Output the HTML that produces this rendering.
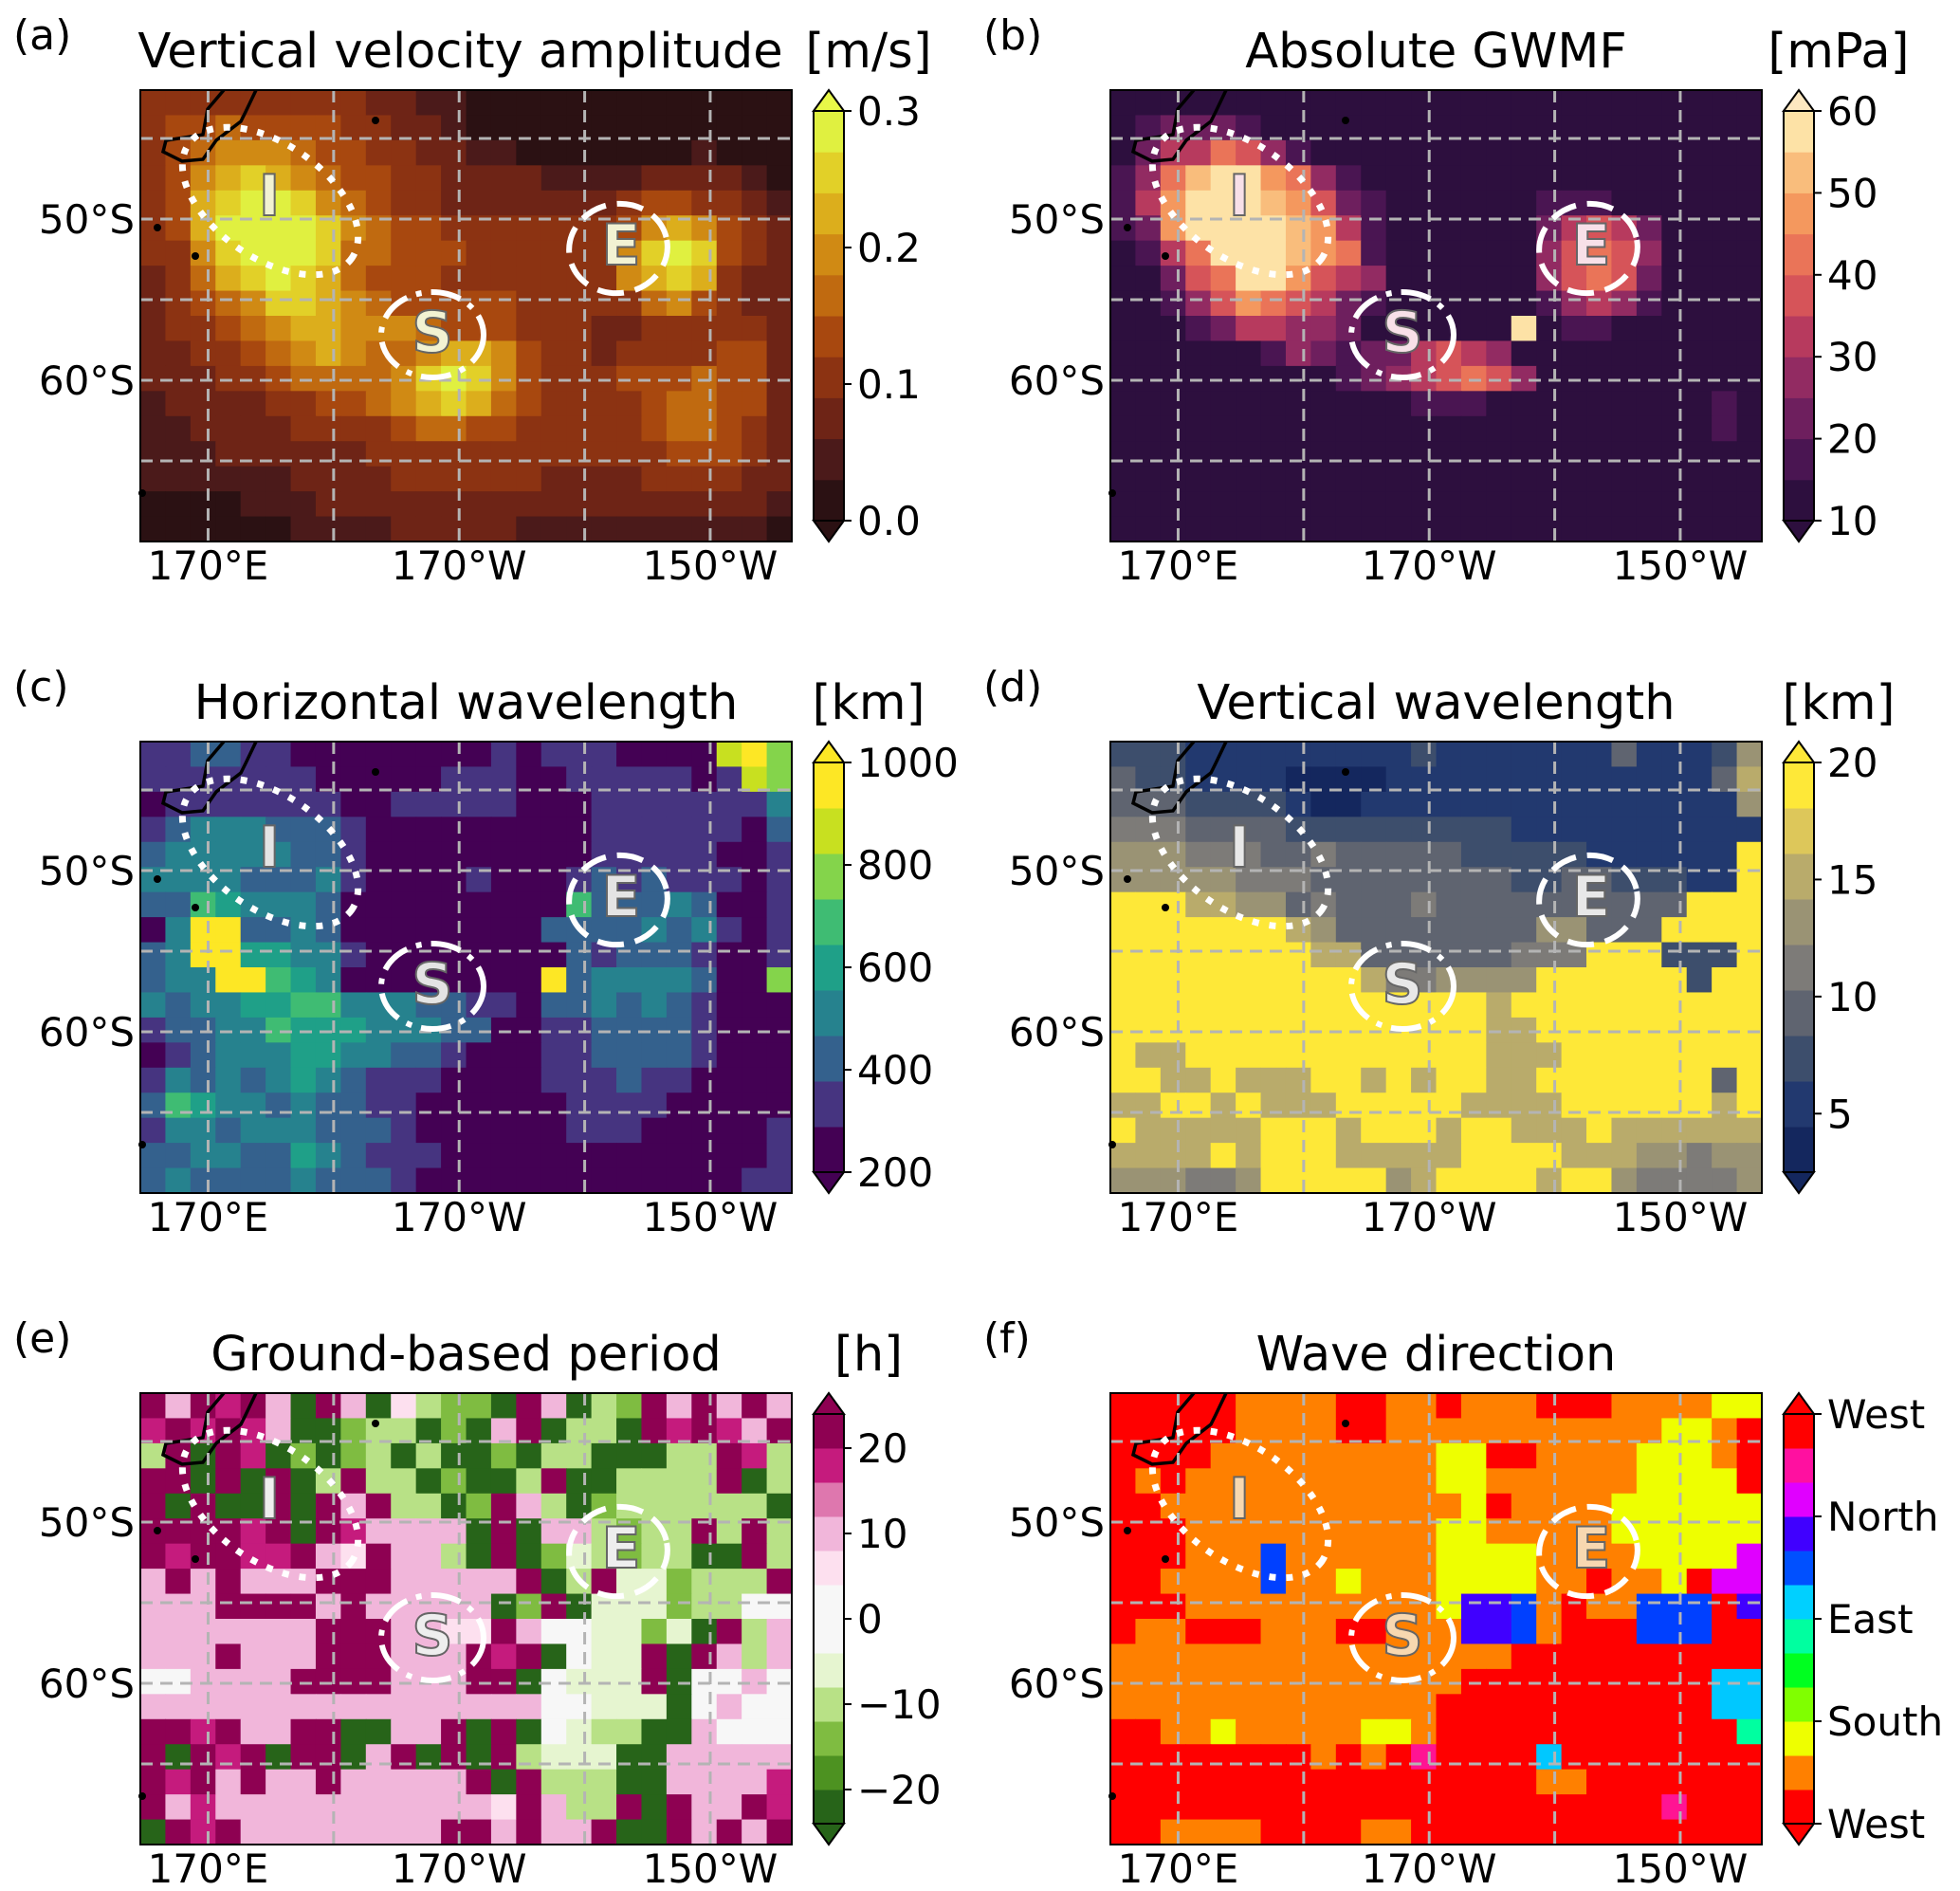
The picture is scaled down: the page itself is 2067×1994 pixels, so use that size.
<!DOCTYPE html>
<html><head><meta charset="utf-8"><style>
html,body{margin:0;padding:0;background:#fff}
svg{display:block}
text{font-family:"DejaVu Sans","Liberation Sans",sans-serif}
</style></head><body>
<svg id="fig" width="2067" height="1994" viewBox="0 0 2067 1994" xmlns="http://www.w3.org/2000/svg"></svg>
<script>
// ---------- data ----------
const panelLetters = ["(a)","(b)","(c)","(d)","(e)","(f)"];
const panelTitles = ["Vertical velocity amplitude","Absolute GWMF","Horizontal wavelength","Vertical wavelength","Ground-based period","Wave direction"];
const panelUnits = ["[m/s]","[mPa]","[km]","[km]","[h]",""];
const latLabels = ["50°S","60°S"];
const latValues = [-50,-60];
const lonLabels = ["170°E","170°W","150°W"];
const lonValues = [170,190,210];
const gridLons = [170,180,190,200,210];
const gridLats = [-45,-50,-55,-60,-65];

const ticksA = [0.0,0.1,0.2,0.3];
const ticksB = [10,20,30,40,50,60];
const ticksC = [200,400,600,800,1000];
const ticksD = [5,10,15,20];
const ticksE = [-20,-10,0,10,20];
const ticksF = ["West","South","East","North","West"];

const gridA = [
"33333333322110000000000000",
"34454444332210000000000000",
"34566654433221100000001000",
"34678765443322221111222210",
"34789986543322222223443321",
"34799998654433333334676432",
"33689998554443333336898432",
"23578987544433333336787322",
"23456887654444433333564322",
"23345677666544433322333332",
"22334567655677643323333442",
"22233455556898643334445442",
"12222334456787543333455442",
"11222233334554433333455432",
"11122222233333333333344432",
"11111122223333332222333322",
"00001112222222222222222221",
"00000011112222211111111110"];
const gridB = [
"00000000000000000000000000",
"01222100000000000000000000",
"02446531000000000000000000",
"13689976310000000000000000",
"14799987521000000111000000",
"12799998741000000245420000",
"01469998761000000356530000",
"00256997543000000356520000",
"00135765421000000134310000",
"00012443320000009011000000",
"00000013212245430000000000",
"00000000012345653000000000",
"00000000000011100000000010",
"00000000000000000000000010",
"00000000000000000000000000",
"00000000000000000000000000",
"00000000000000000000000000",
"00000000000000000000000000"];
const gridC = [
"11221100000000101110000786",
"11111110000011100111110176",
"01111111001111100011111113",
"12333222100000000011111102",
"23333322100000000011111001",
"33332223100001000121211101",
"22543332000000000522232001",
"03882232000000002222323101",
"23884433100000000212221001",
"23388543000000008233332006",
"32334455333221102232321000",
"12233544433322001122221000",
"01233344332210001122221000",
"13232343211100001112110000",
"25433232211000000111100000",
"13323332221000000111000001",
"22332243211100000000000001",
"23222232221000000000000011"];
const gridD = [
"22211111111121111111311125",
"32211110000111111111111136",
"33322221001111111111111115",
"44433332222222221111111111",
"55544433433333222221111118",
"55555444333333332233222118",
"88866553433343333333333888",
"88888886533333333553338888",
"88888888663333334448882228",
"88888888886445555888888288",
"88888888888888868888888888",
"88888888888888866888888888",
"86688888888888866688888888",
"88668666886868866888888838",
"66886866688888666688888868",
"86666688868886886668666666",
"66668688866666888866655455",
"55544588888568888688544445"];
const gridE = [
"A7A9A70A7063220A7032A7A7A7",
"9A9A97002330207A0330A9A97A",
"3A0A9020230300203300033A93",
"AA0A0A03A3302003A003333A03",
"A0A00A0A7A3302A73023333330",
"AAAA9A0A977770A0773233A3A3",
"A9AA99A76A7730A024323300A3",
"7A7A777AAA77777A03A442333A",
"777AAAA7A7777702A044423355",
"7777777AAA7766A75544240A37",
"777A777AAA777A9A0544A0A737",
"557777AAAA777AA05444A05575",
"77777777777777775544405755",
"AA9A77AA0077A0A05433007555",
"A0A9A0AA07A0A0A34440077777",
"A9A7A77A77777A0A3330077779",
"A79777777777776A733A0A77A9",
"0A9A77777777AA7A77A00A7A7A"];
const gridF = [
"RRRRROOOORROOROOORRROOOOYY",
"RRRRROOOORROOOOOOOOOOOYYOR",
"RRRROOOOOOOOOYYRROOOOYYYOR",
"ROROOOOOOOOOOYYOOOOOOYYYYR",
"RROOOOOOOOOOOOYROOOOYYYYYY",
"RRROOOOOOOOOOYYOOOOOYYYYYY",
"RRROOOBOOOOOOYYYYOOOOYYYYM",
"RROOOOBOOYOOOYYYYOOROOYRMM",
"RRROOOOOOOOOOYPPBOROOBBBRP",
"ROORRROOORROOOPPBORRRBBBRR",
"OOOOOOOOOOOOOOOORRRRRRRRRR",
"OOOOOOOOOOOOOORRRRRRRRRRCC",
"OOOOOOOOOOOOORRRRRRRRRRRCC",
"RROOYOOOOOYYORRRRRRRRRRRRT",
"RRRRRRRRORORKRRRRCRRRRRRRR",
"RRRRRRRRRRRRRRRRROORRRRRRR",
"RRRRRRRRRRRRRRRRRRRRRRKRRR",
"RROOOORRRROORRRRRRRRRRRRRR"];

// ---------- styles (not data) ----------
const palA=["#2b1113","#4b1a1a","#6e2416","#8c3312","#a8480f","#c06a10","#d08a14","#dcae1c","#e2d028","#e0f040"];
const palB=["#2d0f3e","#4a1552","#6e1f5e","#922b62","#b73a5e","#d65459","#ea7458","#f4985e","#f9bd7c","#fde2a6"];
const palC=["#440154","#463480","#34618d","#26828e","#1fa088","#3fbc73","#84d44b","#c8e020","#fde725"];
const palD=["#14275e","#22396f","#3d4e6c","#5f6470","#7d7b78","#9a9374","#b9ab6b","#ddc75a","#fee838"];
const palE=["#276419","#4d9221","#7fbc41","#b8e186","#e6f5d0","#f7f7f7","#fde0ef","#f1b6da","#de77ae","#c51b7d","#8e0152"];
const palF={R:"#ff0000",O:"#ff8000",Y:"#eeff00",B:"#0040ff",P:"#4000ff",M:"#e000ff",K:"#ff1493",C:"#00c8ff",T:"#00ffa0"};
const cbarF=["#ff0000","#ff8000","#eeff00","#80ff00","#00ff20","#00ffa0","#00d0ff","#0050ff","#4000ff","#e000ff","#ff10a0","#ff0000"];
const cbarE=["#276419","#4d9221","#7fbc41","#b8e186","#e6f5d0","#f7f7f7","#f7f7f7","#fde0ef","#f1b6da","#de77ae","#c51b7d","#8e0152"];
const letterFill=["#f2f2d2","#f8e0e8","#e4e4e4","#e8e8e8","#eeeeee","#f8d8b0"];

const NS="http://www.w3.org/2000/svg";
const svg=document.getElementById("fig");
function el(tag,attrs,parent){const e=document.createElementNS(NS,tag);for(const k in attrs)e.setAttribute(k,attrs[k]);(parent||svg).appendChild(e);return e;}

const MW=687,MH=476,COLX=[148,1171],ROWY=[95,782,1469];
const LON0=164.6,LON1=216.5,LAT0=-42,LAT1=-70;
function xOf(lon,x0){return x0+(lon-LON0)/(LON1-LON0)*MW;}
function yOf(lat,y0){return y0+(lat-LAT0)/(LAT1-LAT0)*MH;}

const grids=[gridA,gridB,gridC,gridD,gridE,gridF];
const pals=[palA,palB,palC,palD,palE,null];
const cbars=[
 {pal:palA,lo:0,hi:0.3,ticks:ticksA,fmt:v=>v.toFixed(1),top:"#e8f848",bot:"#2b1113"},
 {pal:palB,lo:10,hi:60,ticks:ticksB,fmt:v=>String(v),top:"#fde8c0",bot:"#2d0f3e"},
 {pal:palC,lo:200,hi:1000,ticks:ticksC,fmt:v=>String(v),top:"#fde725",bot:"#440154"},
 {pal:palD,lo:2.5,hi:20,ticks:ticksD,fmt:v=>String(v),top:"#fee838",bot:"#14275e"},
 {pal:cbarE,lo:-24,hi:24,ticks:ticksE,fmt:v=>(v<0?"\u2212"+(-v):String(v)),top:"#8e0152",bot:"#276419"},
 {pal:cbarF,lo:0,hi:4,ticks:ticksF,fmt:v=>v,top:"#ff0000",bot:"#ff0000"}
];

for(let p=0;p<6;p++){
  const x0=COLX[p%2],y0=ROWY[Math.floor(p/2)];
  const g=el("g",{});
  
  
  const grid=grids[p],rows=grid.length,cols=26;
  const cw=MW/cols,ch=MH/rows;
  const hm=el("g",{},g);
  
  
  for(let r=0;r<rows;r++){
    const line=grid[r];
    for(let c=0;c<cols;c++){
      const k=line[Math.min(c,line.length-1)];
      const col=p===5?palF[k]:pals[p][Math.min(parseInt(k,36),pals[p].length-1)];
      const rc=el("rect",{x:(x0+c*cw).toFixed(2),y:(y0+r*ch).toFixed(2),width:(cw+0.6).toFixed(2),height:(ch+0.6).toFixed(2),fill:col},hm);
      
      
    }
  }
  const cx=x0,cy=y0;
  const coast=el("path",{d:`M${cx+88},${cy} L${cx+71},${cy+20} L${cx+66},${cy+47} L${cx+27},${cy+53} L${cx+24},${cy+65} L${cx+44},${cy+75} L${cx+66},${cy+73} L${cx+80},${cy+53} L${cx+106},${cy+33} L${cx+111},${cy+23} L${cx+122},${cy}`,fill:"none",stroke:"#000","stroke-width":3.5},g);
  
  
  [[18,145],[58,175],[248,32],[2,425]].forEach(d=>{const i=el("circle",{cx:cx+d[0],cy:cy+d[1],r:4,fill:"#000"},g);});
  gridLons.forEach(lon=>{const l=el("line",{x1:xOf(lon,x0),x2:xOf(lon,x0),y1:y0,y2:y0+MH,stroke:"#b4b4b4","stroke-width":3,"stroke-dasharray":"13 8"},g);});
  gridLats.forEach(lat=>{const l=el("line",{x1:x0,x2:x0+MW,y1:yOf(lat,y0),y2:yOf(lat,y0),stroke:"#b4b4b4","stroke-width":3,"stroke-dasharray":"13 8"},g);});
  const eI=el("ellipse",{cx:x0+137,cy:y0+117,rx:105,ry:60,transform:`rotate(35 ${x0+137} ${y0+117})`,fill:"none",stroke:"#fff","stroke-width":7,"stroke-dasharray":"7 11"},g);
  
  const eE=el("ellipse",{cx:x0+504,cy:y0+167,rx:52,ry:47,transform:`rotate(-10 ${x0+504} ${y0+167})`,fill:"none",stroke:"#fff","stroke-width":6,"stroke-dasharray":"28 12"},g);
  
  const eS=el("ellipse",{cx:x0+308,cy:y0+258,rx:54,ry:45,fill:"none",stroke:"#fff","stroke-width":6,"stroke-dasharray":"32 10 6 10"},g);
  
  [["I",136,132],["E",507,184],["S",308,276]].forEach(L=>{
    const t=el("text",{x:x0+L[1],y:y0+L[2],"text-anchor":"middle","font-size":60,"font-weight":"bold",fill:letterFill[p],stroke:"#666","stroke-width":2},g);
    t.textContent=L[0];
    
    
  });
  const fr=el("rect",{x:x0,y:y0,width:MW,height:MH,fill:"none",stroke:"#000","stroke-width":2},g);
  
  latLabels.forEach((s,i)=>{const t=el("text",{x:x0-6,y:yOf(latValues[i],y0)+15,"text-anchor":"end","font-size":42},g);t.textContent=s;});
  lonLabels.forEach((s,i)=>{const t=el("text",{x:xOf(lonValues[i],x0),y:y0+MH+40,"text-anchor":"middle","font-size":42},g);t.textContent=s;});
  const tl=el("text",{x:x0-134,y:y0-43,"font-size":44},g);tl.textContent=panelLetters[p];
  const tt=el("text",{x:x0+MW/2-(p===0?6:0),y:y0-24,"text-anchor":"middle","font-size":51},g);tt.textContent=panelTitles[p];
  if(panelUnits[p]){const tu=el("text",{x:x0+768,y:y0-24,"text-anchor":"middle","font-size":51},g);tu.textContent=panelUnits[p];}
  const cb=cbars[p],bx=x0+710,bw=32,bt=y0+22,bb=y0+454;
  const cg=el("g",{},g);
  const n=cb.pal.length,bh=(bb-bt)/n;
  for(let i=0;i<n;i++){const r=el("rect",{x:bx,y:(bb-(i+1)*bh).toFixed(2),width:bw,height:(bh+0.5).toFixed(2),fill:cb.pal[i]},cg);}
  el("polygon",{points:`${bx},${bt} ${bx+bw/2},${y0} ${bx+bw},${bt}`,fill:cb.top,stroke:"#000","stroke-width":2},cg);
  el("polygon",{points:`${bx},${bb} ${bx+bw/2},${y0+MH} ${bx+bw},${bb}`,fill:cb.bot,stroke:"#000","stroke-width":2},cg);
  el("path",{d:`M${bx},${bt} L${bx},${bb} M${bx+bw},${bt} L${bx+bw},${bb}`,stroke:"#000","stroke-width":2,fill:"none"},cg);
  cb.ticks.forEach((v,i)=>{
    const frac=p===5?i/(cb.ticks.length-1):(v-cb.lo)/(cb.hi-cb.lo);
    const ty=bb-frac*(bb-bt);
    el("line",{x1:bx+bw,x2:bx+bw+8,y1:ty,y2:ty,stroke:"#000","stroke-width":2},cg);
    const t=el("text",{x:bx+bw+14,y:ty+15,"font-size":42},cg);t.textContent=cb.fmt(v);
    
  });
}
</script>
</body></html>
